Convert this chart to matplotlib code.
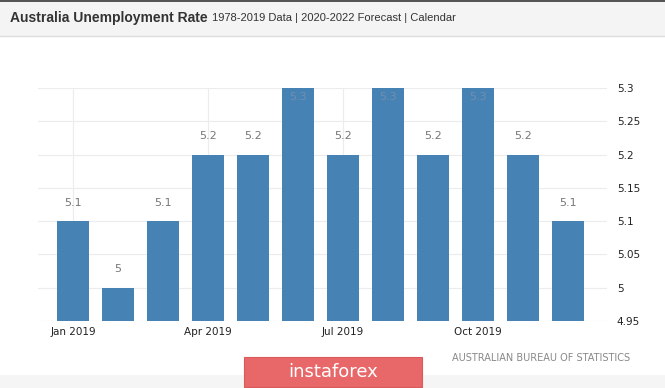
import numpy as np
import matplotlib
matplotlib.use("Agg")
import matplotlib.pyplot as plt
from matplotlib.patches import Rectangle

# data
months = ["Jan", "Feb", "Mar", "Apr", "May", "Jun",
          "Jul", "Aug", "Sep", "Oct", "Nov", "Dec"]
rates = [5.1, 5.0, 5.1, 5.2, 5.2, 5.3, 5.2, 5.3, 5.2, 5.3, 5.2, 5.1]
tick_months = ["Jan 2019", "Apr 2019", "Jul 2019", "Oct 2019"]
y_ticks = [4.95, 5.0, 5.05, 5.1, 5.15, 5.2, 5.25, 5.3]
y_labels = ["4.95", "5", "5.05", "5.1", "5.15", "5.2", "5.25", "5.3"]

W, H = 665, 388
fig = plt.figure(figsize=(W / 100, H / 100), dpi=100)
fig.patch.set_facecolor("white")

# header bar
fig.patches.append(Rectangle((0, 1 - 36 / H), 1, 36 / H, transform=fig.transFigure,
                             facecolor="#f4f4f4", edgecolor="none", zorder=0))
fig.patches.append(Rectangle((0, 1 - 2 / H), 1, 2 / H, transform=fig.transFigure,
                             facecolor="#555555", edgecolor="none", zorder=1))
fig.lines.append(plt.Line2D([0, 1], [1 - 36 / H, 1 - 36 / H], transform=fig.transFigure,
                            color="#dddddd", lw=1))
fig.text(10 / W, 1 - 18 / H, "Australia Unemployment Rate", fontsize=10,
         fontweight="bold", color="#333333", va="center", family="Liberation Sans")
fig.text(212 / W, 1 - 18 / H, "1978-2019 Data | 2020-2022 Forecast | Calendar",
         fontsize=8, color="#333333", va="center", family="Liberation Sans")

# plot area
left, right, top, bottom = 38, 607, 88, 321
ax = fig.add_axes([left / W, 1 - bottom / H, (right - left) / W, (bottom - top) / H])
x = np.arange(len(rates))
ax.bar(x, rates, width=0.73, color="#4682b4", zorder=2)
ax.set_ylim(4.95, 5.3)
ax.set_xlim(-(73 - left) / 45, (right - 73) / 45)

for xi, v in zip(x, rates):
    if v >= 5.3:
        ax.text(xi, v - 0.006, f"{v:g}", ha="center", va="top", fontsize=8,
                color="#6f8fb0", zorder=3)
    else:
        ax.text(xi, v + 0.02, f"{v:g}", ha="center", va="bottom", fontsize=8,
                color="#777777", zorder=3)

ax.set_xticks([0, 3, 6, 9])
ax.set_xticklabels(tick_months, fontsize=7.5, color="#222222")
ax.yaxis.tick_right()
ax.set_yticks(y_ticks)
ax.set_yticklabels(y_labels, fontsize=7.5, color="#222222")
ax.tick_params(length=0, pad=4)
ax.tick_params(axis="y", pad=7)
ax.grid(True, color="#ececec", lw=0.8, zorder=0)
for s in ax.spines.values():
    s.set_visible(False)

fig.text(452 / W, 1 - 358 / H, "AUSTRALIAN BUREAU OF STATISTICS", fontsize=7,
         color="#888888", va="center")

# footer band and logo
fig.patches.append(Rectangle((0, 0), 1, 13 / H, transform=fig.transFigure,
                             facecolor="#f5f5f5", edgecolor="none", zorder=0))
fig.patches.append(Rectangle((244 / W, 1 - 387 / H), 178 / W, 30 / H,
                             transform=fig.transFigure, facecolor="#e8686a",
                             edgecolor="#d85a5c", lw=0.8, zorder=2))
fig.text(333 / W, 1 - 372 / H, "instaforex", fontsize=13, color="white",
         ha="center", va="center", zorder=3)

fig.savefig("out.png", dpi=100)
